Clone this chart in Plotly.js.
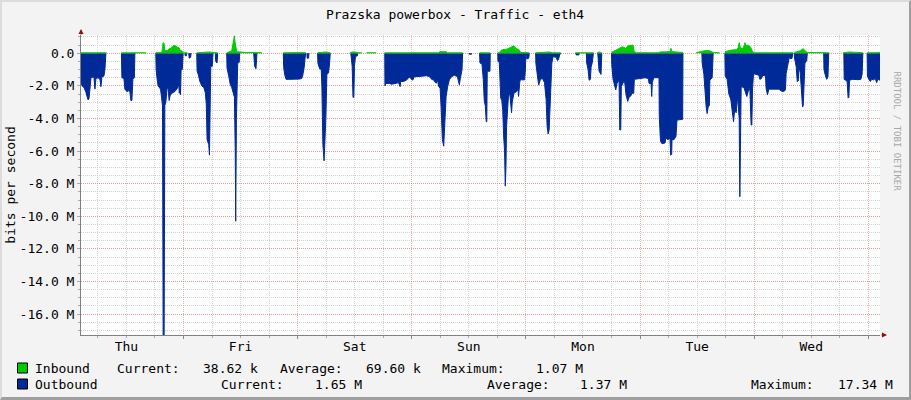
<!DOCTYPE html>
<html>
<head>
<meta charset="utf-8">
<script src="https://cdn.plot.ly/plotly-3.0.1.min.js"></script>
<style>
html,body{margin:0;padding:0;background:#f3f3f3;}
#wrap{position:relative;width:911px;height:400px;}
#chart{width:911px;height:400px;}
#frame{position:absolute;left:0;top:0;width:911px;height:400px;box-sizing:border-box;
  border-top:2px solid #dcdcdc;border-left:2px solid #dcdcdc;border-right:2px solid #9f9f9f;border-bottom:3px solid #9f9f9f;pointer-events:none;}
</style>
</head>
<body>
<div id="wrap"><div id="chart"></div><div id="frame"></div></div>
<script>
// Time in hours since Thu 00:00 (2024-01-04 used as the reference Thursday)
// Outbound traffic (Mbit/s, plotted below the axis)
var outHours = [
2.45,2.66,3.08,3.49,3.91,4.12,4.33,4.54,5.17,5.38,5.59,6.01,6.43,6.64,6.85,7.27,7.48,7.69,
10.95,11.05,11.47,11.68,12.10,12.52,12.73,12.94,13.15,13.36,13.67,13.78,
18.18,18.25,18.46,18.67,19.17,19.45,19.59,19.72,19.93,20.08,20.29,20.56,20.77,20.98,21.19,21.55,22.18,22.60,22.81,23.02,23.12,23.23,23.37,23.50,23.75,23.92,
24.29,24.35,24.60,24.70,25.10,25.20,25.50,25.60,
26.79,26.86,27.11,27.42,27.84,28.27,28.58,28.79,28.96,29.31,29.46,29.59,29.73,30.05,30.21,30.68,30.78,31.05,31.20,
33.09,33.15,33.51,33.83,34.14,34.46,34.71,34.88,34.98,35.13,35.25,35.40,35.72,35.82,
38.76,38.82,38.97,39.24,39.45,
44.99,45.05,45.26,45.58,46.32,47.37,48.42,48.84,49.05,49.36,49.67,49.95,50.00,50.31,50.37,
52.20,52.26,52.62,52.97,53.10,53.31,53.56,53.73,53.94,54.15,54.51,54.72,54.86,
59.18,59.22,59.47,59.64,59.81,59.95,60.16,60.58,60.65,
66.32,66.36,66.53,67.31,67.73,68.36,68.78,69.20,69.41,69.55,69.68,70.24,70.87,71.51,71.78,72.20,72.49,73.61,75.08,75.71,75.98,76.28,76.55,76.76,77.12,77.39,77.66,77.96,78.17,78.44,78.71,78.92,79.22,79.55,79.90,80.32,80.95,81.59,81.86,82.00,82.21,82.57,82.69,
84.05,84.10,84.55,84.60,
86.26,86.34,86.76,86.82,87.03,87.24,87.45,87.66,87.77,87.87,88.44,88.50,
90.08,90.12,90.40,90.50,90.71,90.92,91.13,91.30,91.51,91.66,91.80,91.93,92.14,92.35,92.64,92.77,92.98,93.12,93.48,94.03,94.33,94.45,94.60,94.75,95.02,95.72,95.87,96.01,96.14,96.18,96.60,96.70,
98.05,98.09,98.43,98.68,99.06,99.48,99.90,100.04,100.25,100.46,100.67,100.88,101.16,101.45,101.72,102.35,102.63,102.84,103.09,103.34,
106.50,106.55,107.15,107.20,
108.71,108.78,109.07,109.28,109.56,109.70,109.97,110.18,
111.11,111.17,111.38,111.80,111.95,
114.00,114.05,114.32,114.60,114.89,115.16,115.58,115.73,115.94,116.06,116.42,116.70,116.84,117.05,117.41,117.68,118.10,118.31,118.67,118.79,119.99,121.04,121.74,121.89,122.31,122.45,122.58,122.87,123.98,124.04,124.30,124.61,125.24,125.45,125.87,126.29,126.44,126.65,126.71,127.13,127.55,127.76,128.96,129.02,
133.00,133.06,133.42,133.69,133.90,134.11,134.32,134.57,134.68,135.16,135.37,
137.83,137.90,138.31,138.67,139.09,139.37,139.66,139.87,140.21,140.50,140.84,140.98,141.13,141.26,141.82,142.18,142.45,142.73,143.08,143.35,143.50,143.65,143.86,144.98,145.19,145.53,145.81,146.38,146.50,146.79,147.08,147.50,149.18,149.60,150.02,150.44,150.58,150.71,151.06,151.38,151.70,151.96,152.11,
152.42,152.49,152.84,153.05,153.26,153.41,153.68,153.96,154.17,154.31,154.46,154.67,155.05,155.16,
158.61,158.67,158.96,159.24,159.51,159.66,
162.85,162.92,163.27,163.54,163.75,163.90,164.05,164.74,165.79,166.42,166.69,166.84,
167.74,167.81,168.12,168.42,168.69,169.11,169.47,169.74,170.01,170.45
];
var outMbps = [
1.7,2.0,2.1,2.4,2.85,2.8,2.2,1.5,1.45,2.2,1.55,1.5,1.6,2.05,1.45,1.4,1.0,0,
0,1.5,1.55,2.2,2.35,2.3,2.35,2.9,2.9,1.6,1.5,0,
0,1.0,1.6,2.0,2.2,3.0,3.2,17.34,17.34,3.2,3.0,2.1,2.2,2.9,2.6,2.45,2.35,2.2,2.05,1.95,2.45,1.95,2.55,1.0,1.0,0,
0,0.15,0.15,0,0,0.3,0.25,0,
0,1.1,1.3,1.7,2.0,2.1,2.4,3.1,5.3,5.6,6.25,3.0,0.8,0.8,0,0,0.5,0.6,0,
0,0.9,1.4,1.9,2.1,2.45,2.7,6.0,10.3,4.0,2.0,0.6,0.55,0,
0,0.5,0.8,0.95,0,
0,0.8,1.3,1.6,1.6,1.6,1.58,1.55,1.4,0.9,0,0,0.3,0.3,0,
0,0.6,0.95,1.0,2.0,5.6,6.6,5.7,3.9,1.3,1.2,0.6,0,
0,0.2,0.8,2.7,2.7,0.8,0.2,0.15,0,
0,2.0,1.85,1.85,1.9,1.88,1.84,1.8,1.9,2.05,1.73,1.73,1.65,1.45,1.55,1.65,1.45,1.43,1.38,1.43,1.53,1.63,1.6,1.73,1.84,1.63,2.04,2.15,3.3,5.3,5.7,4.4,2.65,2.04,1.63,1.45,1.35,1.43,1.73,1.94,1.55,1.0,0,
0,0.06,0.06,0,
0,0.6,0.65,1.1,1.6,2.9,3.2,4.2,4.2,1.1,1.1,0,
0,0.5,0.55,1.6,2.75,2.9,3.5,5.0,6.0,8.15,7.0,4.5,2.9,2.5,2.6,3.3,3.65,3.0,2.45,2.35,2.2,2.65,2.0,1.65,1.63,1.63,1.1,0,0,0.35,0.3,0,
0,0.6,1.4,1.95,1.6,1.55,1.8,2.1,2.85,4.5,4.95,4.7,2.8,0.6,0.2,0.25,0.45,0.4,0.1,0,
0,0.1,0.1,0,
0,0.6,1.0,1.65,1.6,0.85,0.55,0,
0,0.5,1.1,1.3,0,
0,0.7,1.6,1.85,2.25,1.85,1.65,4.7,4.7,2.05,1.75,1.65,1.95,2.55,2.95,2.7,2.6,2.45,2.45,1.6,1.55,1.5,1.55,1.85,1.85,2.65,1.8,1.5,1.5,3.9,5.4,5.55,5.5,5.2,5.3,5.2,6.25,6.2,5.3,5.3,5.1,4.1,4.05,0,
0,0.6,1.3,2.6,3.3,3.7,3.3,3.2,1.65,1.5,0,
0,1.4,1.6,2.5,2.85,3.45,4.2,3.5,3.65,2.65,4.0,8.8,5.0,2.05,2.1,2.4,2.65,2.35,2.15,4.4,4.4,2.15,1.25,1.35,1.6,1.55,1.35,1.4,2.15,2.55,2.2,2.2,2.2,2.3,2.35,2.3,2.2,1.25,0.6,0.25,0.35,0.3,0,
0,0.3,0.85,1.75,1.7,0.85,1.2,2.5,3.3,3.2,1.6,0.6,0.45,0,
0,1.0,1.35,1.6,1.45,0,
0,1.6,1.65,1.75,2.75,2.7,1.65,1.6,1.62,1.6,1.3,0,
0,1.4,1.6,1.73,1.6,1.63,1.55,1.8,1.6,1.65
];
// Inbound traffic (Mbit/s, plotted above the axis); null value = no data
var inHours = [
2.45,3.80,4.00,4.30,6.40,6.60,6.80,7.80,7.85,
10.95,12.50,16.10,16.15,
18.18,19.45,19.59,19.72,19.93,20.08,20.70,21.10,21.40,21.65,21.97,22.39,22.60,23.02,23.33,23.65,23.92,24.80,24.85,
26.79,28.50,29.50,30.20,31.20,31.25,
33.09,33.72,34.14,34.41,34.56,34.71,34.83,34.98,35.19,35.82,37.00,39.45,40.50,40.55,
44.99,49.67,49.72,
52.20,53.30,53.90,54.86,54.91,
59.00,59.50,60.00,60.65,61.50,61.55,62.50,64.50,64.55,
66.32,77.60,77.90,79.20,79.50,82.69,82.74,
86.26,87.30,87.80,88.50,88.55,
90.08,90.50,90.71,91.13,91.97,92.40,92.80,93.12,93.44,93.65,93.86,94.28,94.60,94.90,96.01,96.70,96.75,
98.05,100.00,101.00,101.50,103.34,103.39,
106.40,108.70,109.30,110.18,110.23,
111.00,111.40,111.95,112.00,
114.00,114.32,114.75,115.37,115.79,116.27,116.63,117.05,117.41,118.10,118.52,118.73,119.15,124.00,124.10,126.29,126.50,126.71,129.02,129.07,
131.80,133.06,133.60,134.60,135.37,136.70,136.75,
137.83,138.40,139.30,140.35,140.63,140.84,140.98,141.26,141.61,141.89,142.04,142.25,142.67,142.98,143.29,143.57,143.93,151.70,152.11,152.16,
152.42,153.05,153.68,154.10,154.31,154.52,155.16,159.70,159.75,
162.70,163.60,164.00,166.84,166.89,
167.74,170.45
];
var inMbps = [
0.03,0.04,0.06,0.03,0.03,0.06,0.03,0.03,null,
0.03,0.04,0.03,null,
0.03,0.05,0.4,0.65,0.6,0.15,0.18,0.3,0.3,0.42,0.47,0.45,0.38,0.35,0.18,0.15,0.03,0.03,null,
0.03,0.06,0.08,0.04,0.03,null,
0.03,0.1,0.15,0.6,0.85,1.07,0.7,0.4,0.1,0.08,0.05,0.04,0.03,null,
0.03,0.04,null,
0.03,0.08,0.08,0.03,null,
0.03,0.08,0.08,0.03,0.03,null,0.03,0.03,null,
0.03,0.03,0.1,0.1,0.03,0.03,null,
0.03,0.06,0.03,0.03,null,
0.03,0.05,0.16,0.22,0.25,0.3,0.35,0.42,0.45,0.4,0.3,0.25,0.2,0.05,0.03,0.03,null,
0.03,0.08,0.08,0.03,0.03,null,
0.03,0.03,0.05,0.03,null,
0.03,0.08,0.03,null,
0.05,0.1,0.15,0.22,0.3,0.4,0.35,0.3,0.45,0.47,0.5,0.15,0.03,0.03,0.08,0.1,0.3,0.1,0.05,null,
0.03,0.12,0.16,0.16,0.05,0.03,null,
0.1,0.15,0.2,0.22,0.35,0.65,0.45,0.3,0.3,0.45,0.65,0.45,0.5,0.45,0.35,0.15,0.03,0.03,0.05,null,
0.05,0.1,0.15,0.25,0.28,0.2,0.05,0.03,null,
0.03,0.08,0.08,0.03,null,
0.03,0.039
];
var rangeHours = [2.45, 170.45];
var yTickVals = [0,-2,-4,-6,-8,-10,-12,-14,-16];
var yTickText = ['0.0','-2.0 M','-4.0 M','-6.0 M','-8.0 M','-10.0 M','-12.0 M','-14.0 M','-16.0 M'];
var seriesNames = ['Inbound','Outbound'];
var seriesColors = ['#00cc00','#002a97'];
var statLabels = ['Current:','Average:','Maximum:'];
var inboundStats = ['38.62 k','69.60 k','1.07 M'];
var outboundStats = ['1.65 M','1.37 M','17.34 M'];

var BASE = Date.UTC(2024,0,4);
function hToDate(h){
  var d = new Date(BASE + h*3600000);
  return d.toISOString().slice(0,19).replace('T',' ');
}
var mono = 'DejaVu Sans Mono, monospace';

// outbound: break the outline wherever two idle (zero) samples follow each other
var outX = [], outY = [];
for (var k=0;k<outHours.length;k++){
  outX.push(hToDate(outHours[k])); outY.push(-outMbps[k]);
  if(k<outHours.length-1 && outMbps[k]===0 && outMbps[k+1]===0){
    outX.push(hToDate((outHours[k]+outHours[k+1])/2)); outY.push(null);
  }
}
var traces = [
  {x: outX, y: outY, type:'scatter', mode:'lines', connectgaps:false,
   fill:'tozeroy', name: seriesNames[1], line:{color:seriesColors[1], width:1},
   fillcolor:seriesColors[1], hoverinfo:'skip'}
];
// inbound: one filled trace per stretch of known data (split at null = unknown)
var segX = [], segY = [];
function flushSeg(){
  if(segX.length){
    traces.push({x:segX, y:segY, type:'scatter', mode:'lines', fill:'tozeroy', name:seriesNames[0],
      line:{color:seriesColors[0], width:1}, fillcolor:seriesColors[0], hoverinfo:'skip'});
  }
  segX = []; segY = [];
}
for (var i=0;i<inHours.length;i++){
  if(inMbps[i]===null){ flushSeg(); continue; }
  segX.push(hToDate(inHours[i])); segY.push(inMbps[i]);
}
flushSeg();

function px2x(px){ return (px-81)/799; }
function py2y(py){ return (335-py)/300; }

var annotations = [];
var rowY = [py2y(368), py2y(384)];
function addText(t, px, row, anchor){
  annotations.push({text:t, xref:'paper', yref:'paper', x:px2x(px), y:rowY[row],
    xanchor:anchor, yanchor:'middle', showarrow:false, borderpad:0,
    font:{family:mono, size:13, color:'#000'}});
}
addText(seriesNames[0], 33.7, 0, 'left');
addText(statLabels[0], 116.3, 0, 'left');
addText(inboundStats[0], 258.7, 0, 'right');
addText(statLabels[1], 279, 0, 'left');
addText(inboundStats[1], 421.5, 0, 'right');
addText(statLabels[2], 440.7, 0, 'left');
addText(inboundStats[2], 584.3, 0, 'right');
addText(seriesNames[1], 33.7, 1, 'left');
addText(statLabels[0], 219.8, 1, 'left');
addText(outboundStats[0], 363.4, 1, 'right');
addText(statLabels[1], 485.5, 1, 'left');
addText(outboundStats[1], 628, 1, 'right');
addText(statLabels[2], 750, 1, 'left');
addText(outboundStats[2], 893.6, 1, 'right');
// watermark
annotations.push({text:'RRDTOOL / TOBI OETIKER', xref:'paper', yref:'paper', x:px2x(903.5), y:py2y(70),
  textangle:90, showarrow:false, font:{family:mono, size:9, color:'#a8a8a8'}});
// axis arrows
annotations.push({text:'', xref:'paper', yref:'paper', x:0, y:py2y(29), ax:0, ay:7,
  showarrow:true, arrowhead:2, arrowsize:1, arrowwidth:1, arrowcolor:'#8b1010'});
annotations.push({text:'', xref:'paper', yref:'paper', x:px2x(887), y:0, ax:-7, ay:0,
  showarrow:true, arrowhead:2, arrowsize:1, arrowwidth:1, arrowcolor:'#8b1010'});

var shapes = [
  {type:'rect', xref:'paper', yref:'paper', x0:px2x(17.5), x1:px2x(27.5), y0:py2y(363), y1:py2y(373),
   fillcolor:seriesColors[0], line:{color:'#000', width:1}},
  {type:'rect', xref:'paper', yref:'paper', x0:px2x(17.5), x1:px2x(27.5), y0:py2y(379), y1:py2y(389),
   fillcolor:seriesColors[1], line:{color:'#000', width:1}}
];

var layout = {
  width: 911, height: 400,
  margin: {l:81, r:31, t:35, b:65, pad:0},
  paper_bgcolor: '#f3f3f3',
  plot_bgcolor: '#ffffff',
  showlegend: false,
  title: {text:'Prazska powerbox - Traffic - eth4', xref:'container', yref:'container', x:0.4995, y:1-14/400,
    xanchor:'center', yanchor:'middle', font:{family:mono, size:13, color:'#000'}},
  xaxis: {
    type:'date', range:[hToDate(rangeHours[0]), hToDate(rangeHours[1])],
    tick0:'2024-01-04', dtick:86400000, ticklabelmode:'period', tickformat:'%a',
    showgrid:true, gridcolor:'rgba(235,110,110,0.55)', griddash:'1px,1px', gridwidth:1,
    ticks:'outside', ticklen:3, tickcolor:'#888', ticklabelstandoff:-4,
    showline:true, linecolor:'#808080', linewidth:1, zeroline:false,
    tickfont:{family:mono, size:13, color:'#000'},
    minor:{dtick:6*3600000, tick0:'2024-01-04', showgrid:true, gridcolor:'#d2d2d2', griddash:'1px,1px',
      ticks:'outside', ticklen:2, tickcolor:'#aaa'}
  },
  yaxis: {
    range:[-17.28, 1.12], tickmode:'array', tickvals:yTickVals, ticktext:yTickText,
    showgrid:true, gridcolor:'rgba(235,110,110,0.55)', griddash:'1px,1px', gridwidth:1,
    ticks:'outside', ticklen:3, tickcolor:'#aaa', zeroline:false,
    showline:true, linecolor:'#808080', linewidth:1,
    tickfont:{family:mono, size:13, color:'#000'},
    title:{text:'bits per second', standoff:1, font:{family:mono, size:13, color:'#000'}},
    minor:{dtick:0.5, tick0:0, showgrid:true, gridcolor:'#d2d2d2', griddash:'1px,1px',
      ticks:'outside', ticklen:2, tickcolor:'#aaa'}
  },
  annotations: annotations,
  shapes: shapes
};
Plotly.newPlot('chart', traces, layout, {displayModeBar:false, staticPlot:true});
</script>
</body>
</html>
